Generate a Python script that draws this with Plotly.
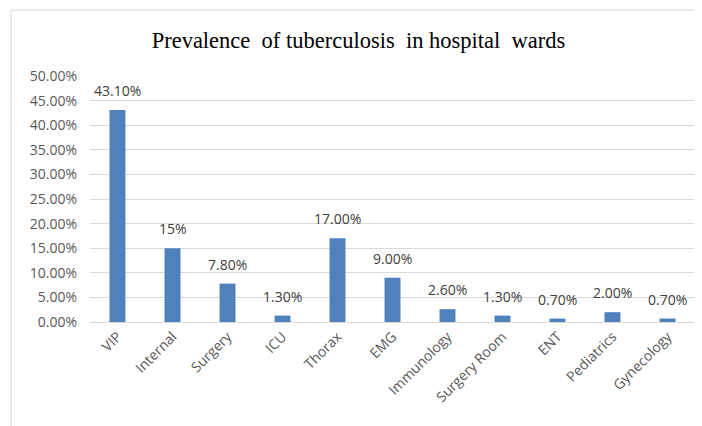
import plotly.graph_objects as go

wards = ["VIP", "Internal", "Surgery", "ICU", "Thorax", "EMG", "Immunology",
         "Surgery Room", "ENT", "Pediatrics", "Gynecology"]
prevalence = [0.431, 0.15, 0.078, 0.013, 0.17, 0.09, 0.026, 0.013, 0.007, 0.02, 0.007]
labels = ["43.10%", "15%", "7.80%", "1.30%", "17.00%", "9.00%", "2.60%",
          "1.30%", "0.70%", "2.00%", "0.70%"]
y_ticks = [0, 0.05, 0.10, 0.15, 0.20, 0.25, 0.30, 0.35, 0.40, 0.45, 0.50]

fig = go.Figure()
fig.add_trace(go.Bar(x=wards, y=prevalence, marker_color="#4F81BD",
                     marker_line_width=0, hoverinfo="skip"))

for w, v, t in zip(wards, prevalence, labels):
    fig.add_annotation(x=w, y=v, text=t, showarrow=False, yanchor="bottom",
                       yshift=8, font=dict(family="Open Sans", size=14, color="#404040"))

fig.add_shape(type="rect", xref="paper", yref="paper", x0=-0.1306, x1=1.05,
              y0=-0.6, y1=1.268, line=dict(color="#D9D9D9", width=1),
              fillcolor="rgba(0,0,0,0)", layer="below")

fig.update_layout(
    width=694, height=418,
    margin=dict(l=82, r=7, t=68, b=104),
    paper_bgcolor="white", plot_bgcolor="white",
    bargap=0.71,
    showlegend=False,
    title=dict(text="Prevalence\u00a0 of tuberculosis\u00a0 in hospital\u00a0 wards",
               x=0.505, xanchor="center", y=0.922, yanchor="middle",
               font=dict(family="Liberation Serif", size=22.5, color="#000000")),
    xaxis=dict(tickangle=-45, showgrid=False, showline=True, linecolor="#D9D9D9",
               linewidth=1, ticks="", tickfont=dict(family="Open Sans", size=14, color="#595959")),
    yaxis=dict(range=[0, 0.5], tickvals=y_ticks, tickformat=".2%", showgrid=True,
               gridcolor="#D9D9D9", gridwidth=1, zeroline=False, showline=False,
               ticklabelstandoff=12,
               tickfont=dict(family="Open Sans", size=14, color="#595959")),
)

fig.write_html("out.html")
